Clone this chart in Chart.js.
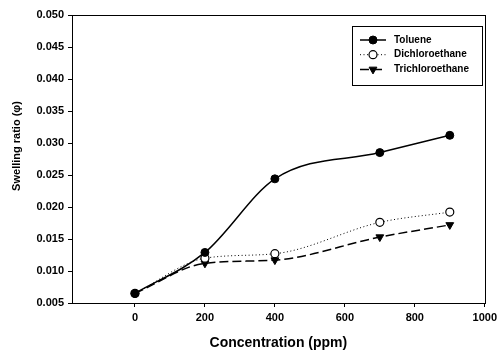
<!DOCTYPE html>
<html>
<head>
<meta charset="utf-8">
<script src="https://cdn.jsdelivr.net/npm/chart.js@4/dist/chart.umd.min.js"></script>
<style>
  html, body { margin: 0; padding: 0; background: #fff; }
  #wrap { width: 501px; height: 352px; }
</style>
</head>
<body>
<div id="wrap"><canvas id="myChart" width="501" height="352"></canvas></div>
<script>
// concentrations (ppm) and swelling ratio per solvent
var concentration = [0, 200, 400, 700, 900];
var toluene = [0.0065, 0.0129, 0.0244, 0.0285, 0.0312];
var dichloroethane = [0.0065, 0.0120, 0.0127, 0.0176, 0.0192];
var trichloroethane = [0.0065, 0.0112, 0.0117, 0.0153, 0.0172];
var xTicks = [0, 200, 400, 600, 800, 1000];
var yTicks = [0.005, 0.010, 0.015, 0.020, 0.025, 0.030, 0.035, 0.040, 0.045, 0.050];

var FONT = 'Liberation Sans, Arial, sans-serif';

function pts(ys) {
    return concentration.map(function (x, i) { return { x: x, y: ys[i] }; });
}

// box around the plot area + rotated y title (sits a bit above centre)
var frame = {
    id: 'frame',
    afterDraw: function (chart) {
        var a = chart.chartArea, c = chart.ctx;
        c.save();
        c.strokeStyle = '#000';
        c.lineWidth = 1;
        c.strokeRect(Math.round(a.left) + 0.5, Math.round(a.top) + 0.5,
            Math.round(a.right - a.left), Math.round(a.bottom - a.top));
        c.translate(17, 146);
        c.rotate(-Math.PI / 2);
        c.fillStyle = '#000';
        c.font = 'bold 11px ' + FONT;
        c.textAlign = 'center';
        c.textBaseline = 'middle';
        c.fillText('Swelling ratio (φ)', 0, 0);
        c.restore();
    }
};

// boxed legend inside the plot, top right
var boxLegend = {
    id: 'boxLegend',
    afterDraw: function (chart) {
        var c = chart.ctx;
        var bx = 352, by = 26, bw = 130, bh = 59;
        c.save();
        c.strokeStyle = '#000';
        c.lineWidth = 1;
        c.strokeRect(bx + 0.5, by + 0.5, bw, bh);
        chart.data.datasets.forEach(function (ds, i) {
            var y = 40 + i * 14.7;
            c.beginPath();
            c.setLineDash(ds.borderDash || []);
            c.strokeStyle = ds.borderColor;
            c.lineWidth = ds.borderWidth;
            c.moveTo(360, y);
            c.lineTo(386, y);
            c.stroke();
            c.setLineDash([]);
            c.fillStyle = ds.pointBackgroundColor;
            c.strokeStyle = ds.pointBorderColor;
            c.lineWidth = ds.pointBorderWidth;
            Chart.helpers.drawPoint(c, {
                pointStyle: ds.pointStyle,
                rotation: ds.pointRotation || 0,
                radius: ds.pointRadius,
                borderWidth: ds.pointBorderWidth
            }, 373, y);
            c.fillStyle = '#000';
            c.font = 'bold 10px ' + FONT;
            c.textBaseline = 'middle';
            c.textAlign = 'left';
            c.fillText(ds.label, 394, y);
        });
        c.restore();
    }
};

var ctx = document.getElementById('myChart').getContext('2d');
var chart = new Chart(ctx, {
    type: 'line',
    data: {
        datasets: [{
            label: 'Toluene',
            data: pts(toluene),
            borderColor: '#000',
            borderWidth: 1.5,
            pointStyle: 'circle',
            pointRadius: 4,
            pointBackgroundColor: '#000',
            pointBorderColor: '#000',
            pointBorderWidth: 1,
            cubicInterpolationMode: 'monotone'
        },
        {
            label: 'Dichloroethane',
            data: pts(dichloroethane),
            borderColor: '#000',
            borderWidth: 1,
            borderDash: [1, 2.5],
            pointStyle: 'circle',
            pointRadius: 4,
            pointBackgroundColor: '#fff',
            pointBorderColor: '#000',
            pointBorderWidth: 1.2,
            cubicInterpolationMode: 'monotone'
        },
        {
            label: 'Trichloroethane',
            data: pts(trichloroethane),
            borderColor: '#000',
            borderWidth: 1.5,
            borderDash: [9, 4],
            pointStyle: 'triangle',
            pointRotation: 180,
            pointRadius: 4.5,
            pointBackgroundColor: '#000',
            pointBorderColor: '#000',
            pointBorderWidth: 1,
            cubicInterpolationMode: 'monotone'
        }]
    },
    options: {
        responsive: false,
        animation: false,
        layout: { padding: { top: 15, right: 14, left: 0, bottom: 0 } },
        plugins: { legend: { display: false }, tooltip: { enabled: false } },
        scales: {
            x: {
                type: 'linear',
                min: -180,
                max: 1000,
                afterBuildTicks: function (s) { s.ticks = xTicks.map(function (v) { return { value: v }; }); },
                afterFit: function (s) { s.height = 49; },
                grid: { drawOnChartArea: false, color: '#000', tickLength: 4 },
                border: { color: '#000', width: 1 },
                ticks: {
                    color: '#000', font: { family: FONT, size: 11, weight: 'bold' }, padding: 4, maxRotation: 0,
                    callback: function (v) { return String(v); }
                },
                title: { display: true, text: 'Concentration (ppm)', color: '#000', font: { family: FONT, size: 14, weight: 'bold' }, padding: { top: 6, bottom: 0 } }
            },
            y: {
                min: 0.005,
                max: 0.05,
                afterBuildTicks: function (s) { s.ticks = yTicks.map(function (v) { return { value: v }; }); },
                afterFit: function (s) { s.width = 72; },
                grid: { drawOnChartArea: false, color: '#000', tickLength: 4 },
                border: { color: '#000', width: 1 },
                ticks: {
                    color: '#000', font: { family: FONT, size: 11, weight: 'bold' }, padding: 4,
                    callback: function (v) { return v.toFixed(3); }
                }
            }
        }
    },
    plugins: [frame, boxLegend]
});
</script>
</body>
</html>
